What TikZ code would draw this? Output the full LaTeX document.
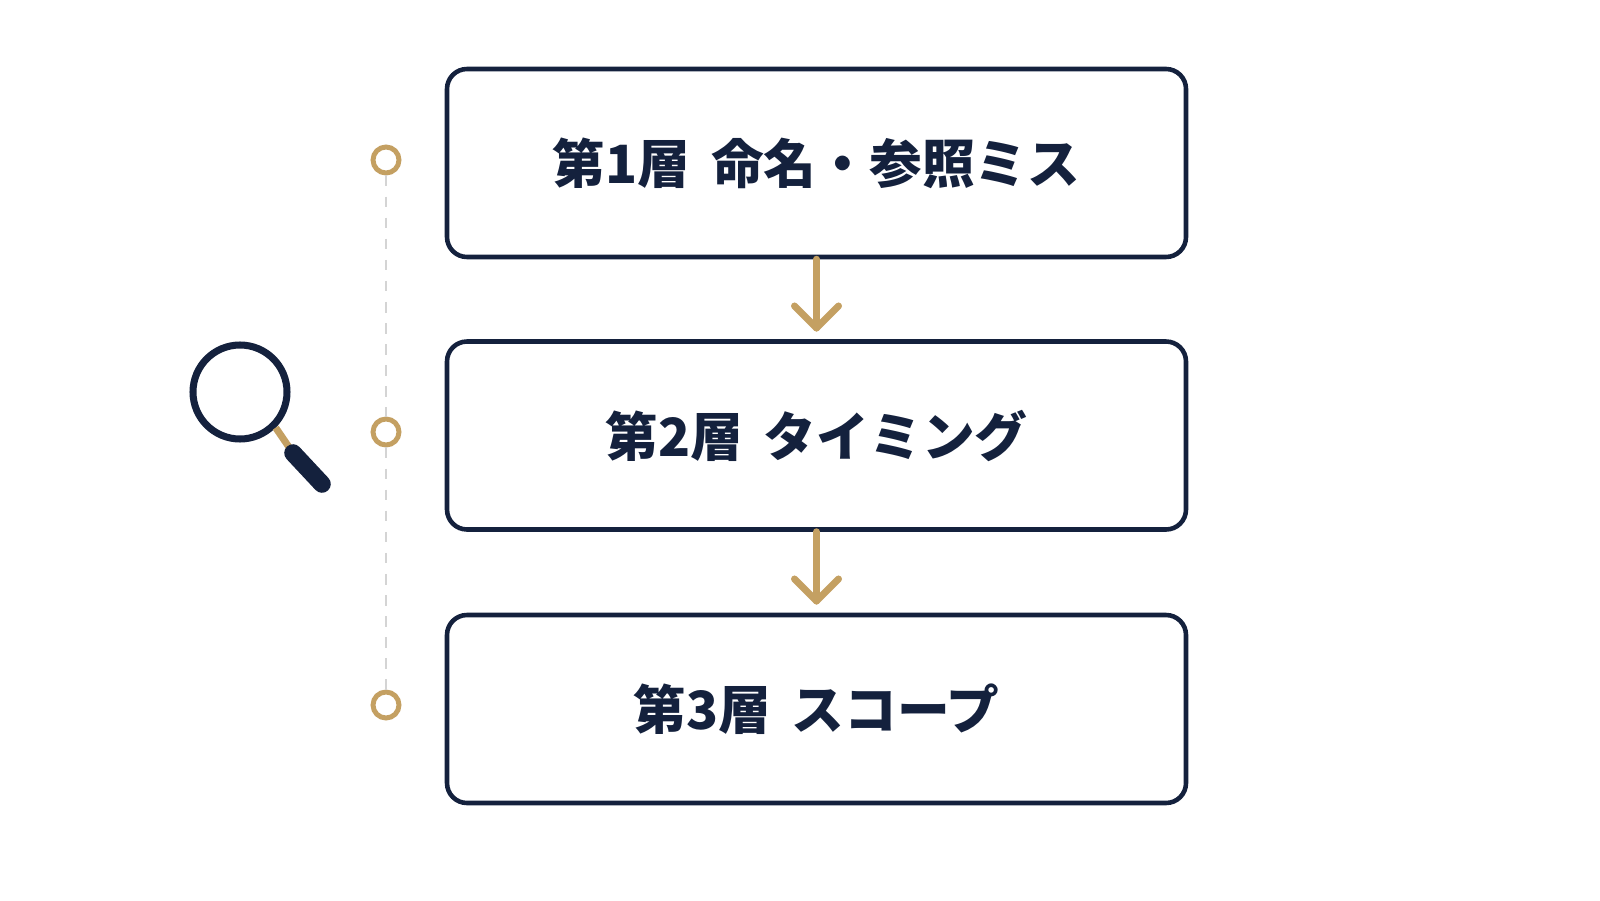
\documentclass[tikz,border=0pt]{standalone}
\usepackage{fontspec}
\setmainfont{Noto Sans CJK JP}
\usetikzlibrary{positioning}
\definecolor{navy}{HTML}{14213D}
\definecolor{gold}{HTML}{C4A062}
\definecolor{rail}{HTML}{D4D4D4}
\tikzset{
  layer/.style={draw=navy,line width=1.3pt,rounded corners=0.2cm,minimum width=7.39cm,minimum height=1.88cm,text=navy,font=\fontsize{15}{18}\selectfont\bfseries},
  flow/.style={draw=gold,line width=2pt,line cap=round,line join=round},
  dot/.style={circle,draw=gold,line width=1.4pt,fill=white,minimum size=0.26cm,inner sep=0pt}
}
\begin{document}
\begin{tikzpicture}
  \useasboundingbox (0,0) rectangle (16,9);
  \node[layer] (l1) at (8.165,7.37){第1層\hspace{0.4em}命名・参照ミス};
  \node[layer] (l2) at (8.165,4.645){第2層\hspace{0.4em}タイミング};
  \node[layer] (l3) at (8.165,1.91){第3層\hspace{0.4em}スコープ};

  % connectors between layers
  \coordinate (a1) at (8.165,5.72);
  \coordinate (a2) at (8.165,2.99);
  \draw[flow] (l1.south) -- (a1);
  \draw[flow] (l2.south) -- (a2);
  \draw[flow] ([shift={(-0.22,0.22)}]a1) -- (a1) -- ([shift={(0.22,0.22)}]a1);
  \draw[flow] ([shift={(-0.22,0.22)}]a2) -- (a2) -- ([shift={(0.22,0.22)}]a2);

  % side rail
  \node[dot] (m1) at (3.86,7.40){};
  \node[dot] (m2) at (3.86,4.68){};
  \node[dot] (m3) at (3.86,1.95){};
  \draw[rail,line width=0.8pt,dash pattern=on 3pt off 3pt] (m1) -- (m2);
  \draw[rail,line width=0.8pt,dash pattern=on 3pt off 3pt] (m2) -- (m3);

  % magnifier
  \node[circle,draw=navy,line width=2pt,minimum size=0.94cm,inner sep=0pt] (lens) at (2.40,5.08){};
  \coordinate (h0) at (2.93,4.47);
  \coordinate (h1) at (3.22,4.16);
  \draw[gold,line width=2pt] (lens.-45) -- (h0);
  \draw[navy,line width=5pt,line cap=round] (h0) -- (h1);
\end{tikzpicture}
\end{document}
